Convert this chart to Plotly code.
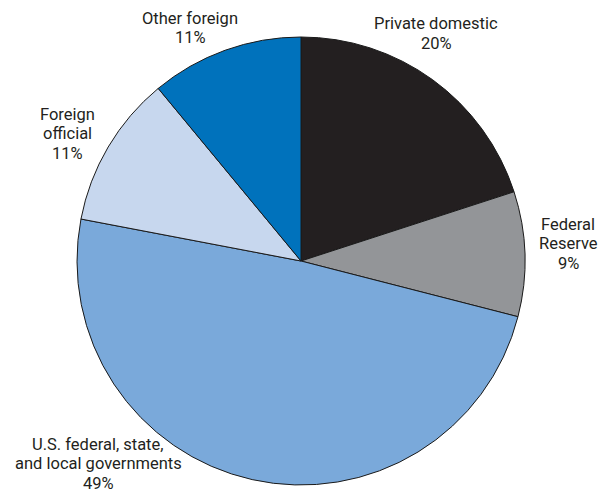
import plotly.graph_objects as go

# Holders of the debt, clockwise from 12 o'clock
holders = ["Private domestic", "Federal Reserve", "U.S. federal, state, and local governments",
           "Foreign official", "Other foreign"]
shares = [20, 9, 49, 11, 11]
colors = ["#231f20", "#939598", "#7aa9da", "#c7d7ee", "#0072bc"]

# Label text lines per holder
label_lines = [
    ["Private domestic"],
    ["Federal", "Reserve"],
    ["U.S. federal, state,", "and local governments"],
    ["Foreign", "official"],
    ["Other foreign"],
]

W, H = 605, 495
cx, cy, r = 301, 261, 224

fig = go.Figure(go.Pie(
    labels=holders,
    values=shares,
    marker=dict(colors=colors, line=dict(color="#1a1a1a", width=1)),
    sort=False,
    direction="clockwise",
    rotation=0,
    textinfo="none",
    hoverinfo="label+percent",
    showlegend=False,
    domain=dict(x=[(cx - r) / W, (cx + r) / W],
                y=[(H - cy - r) / H, (H - cy + r) / H]),
))

# Centre x and first-line centre y (pixels) of each label block
label_pos = [(436, 24), (568, 224), (98, 444), (67, 114), (190, 18)]
line_gap = 19.5

annotations = []
for lines, val, (px, py) in zip(label_lines, shares, label_pos):
    for i, line in enumerate(lines + [f"{val}%"]):
        annotations.append(dict(
            x=px / W, y=1 - (py + i * line_gap) / H, xref="paper", yref="paper",
            text=line, showarrow=False, align="center",
            xanchor="center", yanchor="middle",
            font=dict(family="Roboto, sans-serif", size=16.5, color="#231f20"),
        ))

fig.update_layout(
    width=W, height=H,
    margin=dict(l=0, r=0, t=0, b=0),
    paper_bgcolor="white",
    plot_bgcolor="white",
    annotations=annotations,
)

fig.write_html("out.html")
